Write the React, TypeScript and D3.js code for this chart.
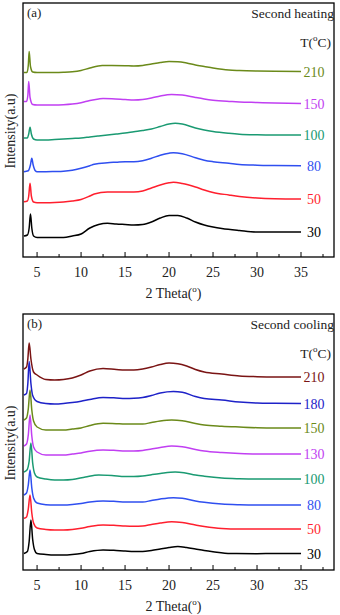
import React, { useEffect, useRef } from "react";
import * as d3 from "d3";

// [2theta, intensity above baseline]
const heat30 = [[3.5, -4], [3.9, -3], [4.1, 4], [4.25, 18], [4.4, 4], [4.6, -4], [5, -5.5], [6, -5.5], [7, -5.5], [8, -5.5], [9, -4], [10, -2], [11, 4], [12, 7.5], [13, 8.7], [14, 8], [15, 7.5], [16, 7], [17, 7.5], [18, 10], [19, 14], [20, 16.5], [21, 16.5], [22, 14], [23, 10], [24, 7], [25, 5], [26, 3.5], [28, 1.5], [30, 0], [32, 0], [35, 0]];
const heat50 = [[3.5, -2.7], [3.9, -2], [4.05, 3], [4.2, 15.7], [4.35, 3], [4.6, -3], [5, -3.7], [6, -3.7], [7, -3.5], [8, -3], [9, -2], [10, -0.5], [11, 3], [11.5, 5], [13, 7], [14, 7], [15, 7], [16, 7], [17, 8], [18, 11], [19, 14], [20, 16.2], [20.5, 16.7], [21.5, 15.5], [23, 12], [24, 9], [25, 6.5], [26.8, 4], [28, 2.5], [30, 1], [32, 0.3], [35, 0]];
const heat80 = [[3.5, -6], [4.0, -5], [4.25, 1], [4.4, 7.4], [4.55, 1], [4.8, -5], [5, -6], [6, -6], [7, -5.8], [8, -5.5], [9, -4.5], [10, -2.5], [11, 0], [11.5, 1.5], [13, 3], [14, 3.5], [15, 4], [16, 4], [17, 5], [18, 7.5], [19, 10.5], [20, 12.5], [20.5, 13], [21.5, 12], [23, 8], [24, 5.5], [25, 4], [26.8, 2.4], [28, 1.2], [30, 0.5], [32, 0.2], [35, 0]];
const heat100 = [[3.5, -3], [3.9, -3], [4.05, 1], [4.2, 7.7], [4.35, 1], [4.6, -4], [5, -5], [6, -5], [7, -4.5], [8, -4], [9, -3.5], [10, -3], [11, -2], [12, -1], [13, 0], [14, 1], [15, 2], [16, 3.3], [17, 4.5], [18, 6], [19, 8.5], [20, 11], [20.7, 11.7], [21.5, 11], [23, 7], [24, 5], [25, 3.5], [26.8, 1.7], [28, 0.8], [30, 0.2], [32, 0], [35, 0]];
const heat150 = [[3.5, 2], [3.8, 2], [3.95, 8], [4.05, 22], [4.2, 6], [4.5, -1], [5, -1.5], [6, -1.5], [7, -1.5], [8, -1.2], [9, -0.5], [10, 0.8], [11, 3], [12, 4.5], [12.5, 5], [13.5, 4.8], [15, 4], [16, 3.5], [17, 4], [18, 5.5], [19, 7.5], [20.3, 9], [21.5, 8.5], [23, 6], [24, 4.5], [25, 3.3], [27, 2], [28, 1.5], [30, 1], [32, 0.5], [35, 0]];
const heat210 = [[3.5, -1], [3.85, -1], [4.0, 6], [4.1, 20], [4.25, 5], [4.5, -0.5], [5, -1], [6, -1], [7, -1], [8, -0.8], [9, -0.3], [10, 1], [11, 3.5], [12.4, 6], [13.5, 6], [15, 5.8], [16, 5.5], [17, 6], [18, 7.5], [19, 9], [20, 10], [21, 9.8], [22, 8.5], [23, 6.5], [24, 5], [25, 3.5], [26.8, 1.5], [28, 1], [30, 0.5], [32, 0.2], [35, 0]];

const cool30 = [[3.5, 0], [3.9, 2], [4.1, 12], [4.3, 33.5], [4.5, 14], [4.7, 4], [5, 0], [6, -1], [7, -1.5], [8, -1.5], [9, -1], [10, 0], [11, 2], [12.5, 3.5], [14, 3], [15, 2.5], [16, 2], [17, 2], [18, 3], [19, 4.5], [20, 6], [21, 7], [22, 6], [23, 4.5], [24, 3], [25, 1.8], [27, 0], [30, -0.2], [32, 0], [35, 0]];
const cool50 = [[3.5, 10.7], [3.8, 12], [4.0, 20], [4.2, 34], [4.4, 16], [4.6, 6], [5, 1], [6, -0.5], [7, -1], [8, -1], [9, -0.5], [10, 0.8], [11, 2.5], [12.5, 4], [14, 3.5], [15, 3], [16, 2.8], [17, 3], [18, 4.5], [19, 6], [20.3, 7.3], [21.5, 6.5], [23, 4], [24, 2.5], [26, 0.5], [28, 0], [30, 0], [32, 0], [35, 0]];
const cool80 = [[3.5, 10], [3.8, 12], [4.0, 20], [4.2, 35], [4.4, 17], [4.6, 7], [5, 2], [6, 0.3], [7, 0], [8, 0], [9, 0.5], [10, 1.5], [11, 3], [12.5, 4], [14, 3.5], [15, 3], [16, 3], [17, 3], [18, 4.5], [19, 6], [20.5, 7.3], [21.5, 6.8], [23, 4], [24, 2.7], [26, 1], [28, 0.3], [30, 0], [32, 0], [35, 0]];
const cool100 = [[3.5, 7], [3.85, 9], [4.1, 18], [4.3, 36], [4.5, 16], [4.7, 6], [5, 2], [6, 0], [7, -1], [8, -1], [9, -0.5], [10.5, 2], [12, 4], [13.5, 3.5], [15, 2.5], [16, 2.5], [17, 3], [18, 4.3], [19, 5.5], [20.7, 7], [21.7, 6.3], [23, 4], [24, 2.8], [26, 1], [28, 0.3], [30, 0], [32, 0], [35, 0]];
const cool130 = [[3.5, 8], [3.8, 10], [4.0, 19], [4.2, 39], [4.4, 18], [4.6, 7], [5, 2], [6, -1], [7, -1], [8, -1], [9, 0], [10, 1], [11, 2.8], [12.5, 4], [14, 3.5], [15, 3], [16, 3], [17, 3.5], [18, 5], [19, 6.5], [20.3, 8], [21.5, 7.3], [23, 4.5], [24, 3], [26, 1.5], [28, 0.5], [30, 0], [32, 0], [35, 0]];
const cool150 = [[3.5, 8], [3.8, 10], [4.0, 19], [4.2, 38], [4.4, 18], [4.6, 7], [5, 1], [6, -2], [7, -2], [8, -2], [9, -1], [10, 0], [11, 2.5], [12.5, 4.7], [14, 4.3], [15, 4], [16, 4], [17, 4], [18, 5.5], [19, 7], [20.3, 8], [21.5, 7.3], [23, 4.5], [24, 3], [26, 1.8], [28, 1], [30, 0.3], [32, 0], [35, 0]];
const cool180 = [[3.5, 8.5], [3.8, 10], [3.95, 20], [4.1, 42], [4.3, 20], [4.5, 8], [5, 2], [6, 0], [7, -0.5], [8, 0], [9, 1], [10, 2.3], [11, 4], [12.5, 6], [14, 5.5], [15, 5], [16, 5.2], [17, 6], [18, 8], [19, 10.5], [20.5, 12], [21.5, 11.3], [23, 7], [24, 5], [26, 3.5], [28, 1.5], [30, 0.5], [32, 0.2], [35, 0]];
const cool210 = [[3.5, 8], [3.8, 10], [3.95, 18], [4.1, 34], [4.3, 18], [4.6, 5], [5, 2], [6, -2.5], [7, -3], [8, -2.5], [9, -1], [10, 2], [11, 6], [12.5, 8.5], [14, 7.5], [15, 7], [16, 7], [17, 8], [18, 10], [19, 12.5], [20, 14], [21, 13.3], [22, 11], [23, 7.5], [24, 5], [26, 3], [28, 1], [30, 0.3], [32, 0], [35, 0]];

const heatLabels = ["210", "150", "100", "80", "50", "30"];
const heatOffsets = [185.5, 153.5, 122, 91.3, 58, 25];
const heatColors = ["#6b8a1a", "#c13ff2", "#1a9a72", "#2f4ff0", "#ff1f2e", "#000000"];
const heatSeries = [heat210, heat150, heat100, heat80, heat50, heat30];

const coolLabels = ["210", "180", "150", "130", "100", "80", "50", "30"];
const coolOffsets = [193, 166.5, 142, 116, 91, 65, 41, 16.5];
const coolColors = ["#7a1414", "#1e22c8", "#6b8a1a", "#c13ff2", "#1a9a72", "#2f4ff0", "#ff1f2e", "#000000"];
const coolSeries = [cool210, cool180, cool150, cool130, cool100, cool80, cool50, cool30];

const xTicks = [5, 10, 15, 20, 25, 30, 35];
const xMinorTicks = [7.5, 12.5, 17.5, 22.5, 27.5, 32.5, 37.5];

const font = "Liberation Serif, DejaVu Serif, serif";

function drawPanel(svg, top, bottom, tag, title, labels, offsets, colors, series) {
  const left = 23, right = 334;
  const x = d3.scaleLinear().domain([3.4, 38.75]).range([left, right]);
  const y = d3.scaleLinear().domain([0, bottom - top]).range([bottom, top]);
  const g = svg.append("g");

  const line = d3
    .line()
    .x(d => x(d[0]))
    .y(d => d[1])
    .curve(d3.curveMonotoneX);

  series.forEach((s, i) => {
    const pts = s.map(d => [d[0], y(offsets[i] + d[1])]);
    g.append("path")
      .attr("d", line(pts))
      .attr("fill", "none")
      .attr("stroke", colors[i])
      .attr("stroke-width", 1.5)
      .attr("stroke-linejoin", "round");
    g.append("text")
      .attr("x", 314)
      .attr("y", y(offsets[i]) + 5)
      .attr("text-anchor", "middle")
      .attr("font-family", font)
      .attr("font-size", 14)
      .attr("fill", colors[i])
      .text(labels[i]);
  });

  // frame
  g.append("rect")
    .attr("x", left)
    .attr("y", top)
    .attr("width", right - left)
    .attr("height", bottom - top)
    .attr("fill", "none")
    .attr("stroke", "#000")
    .attr("stroke-width", 1.3);

  // ticks inside bottom
  g.selectAll(".major")
    .data(xTicks)
    .enter()
    .append("line")
    .attr("x1", d => x(d))
    .attr("x2", d => x(d))
    .attr("y1", bottom)
    .attr("y2", bottom - 5)
    .attr("stroke", "#000")
    .attr("stroke-width", 1);
  g.selectAll(".minor")
    .data(xMinorTicks)
    .enter()
    .append("line")
    .attr("x1", d => x(d))
    .attr("x2", d => x(d))
    .attr("y1", bottom)
    .attr("y2", bottom - 3)
    .attr("stroke", "#000")
    .attr("stroke-width", 1);
  g.selectAll(".ticklabel")
    .data(xTicks)
    .enter()
    .append("text")
    .attr("x", d => x(d))
    .attr("y", bottom + 20)
    .attr("text-anchor", "middle")
    .attr("font-family", font)
    .attr("font-size", 14)
    .attr("fill", "#222")
    .text(d => d);

  // axis title
  const xt = g.append("text")
    .attr("x", (left + right) / 2 - 5)
    .attr("y", bottom + 41)
    .attr("text-anchor", "middle")
    .attr("font-family", font)
    .attr("font-size", 14)
    .attr("fill", "#222");
  xt.append("tspan").text("2 Theta(");
  xt.append("tspan").attr("font-size", 9).attr("dy", -6).text("o");
  xt.append("tspan").attr("dy", 6).text(")");

  g.append("text")
    .attr("transform", `translate(15,${(top + bottom) / 2 + 1}) rotate(-90)`)
    .attr("text-anchor", "middle")
    .attr("font-family", font)
    .attr("font-size", 14)
    .attr("fill", "#222")
    .text("Intensity(a.u)");

  g.append("text")
    .attr("x", 27)
    .attr("y", top + 14)
    .attr("font-family", font)
    .attr("font-size", 13)
    .attr("fill", "#222")
    .text(tag);
  g.append("text")
    .attr("x", 334)
    .attr("y", top + 15)
    .attr("text-anchor", "end")
    .attr("font-family", font)
    .attr("font-size", 13.5)
    .attr("fill", "#222")
    .text(title);

  const tt = g.append("text")
    .attr("x", 331)
    .attr("y", top + 44)
    .attr("text-anchor", "end")
    .attr("font-family", font)
    .attr("font-size", 13.5)
    .attr("fill", "#222");
  tt.append("tspan").text("T(");
  tt.append("tspan").attr("font-size", 9).attr("dy", -6).text("o");
  tt.append("tspan").attr("dy", 6).text("C)");
}

export default function App() {
  const ref = useRef(null);
  useEffect(() => {
    const svg = d3.select(ref.current);
    svg.selectAll("*").remove();
    drawPanel(svg, 3, 257, "(a)", "Second heating", heatLabels, heatOffsets, heatColors, heatSeries);
    drawPanel(svg, 314, 570, "(b)", "Second cooling", coolLabels, coolOffsets, coolColors, coolSeries);
  }, []);
  return (
    <svg
      ref={ref}
      width={340}
      height={615}
      style={{ position: "absolute", left: 0, top: 0, background: "#fff" }}
    />
  );
}
